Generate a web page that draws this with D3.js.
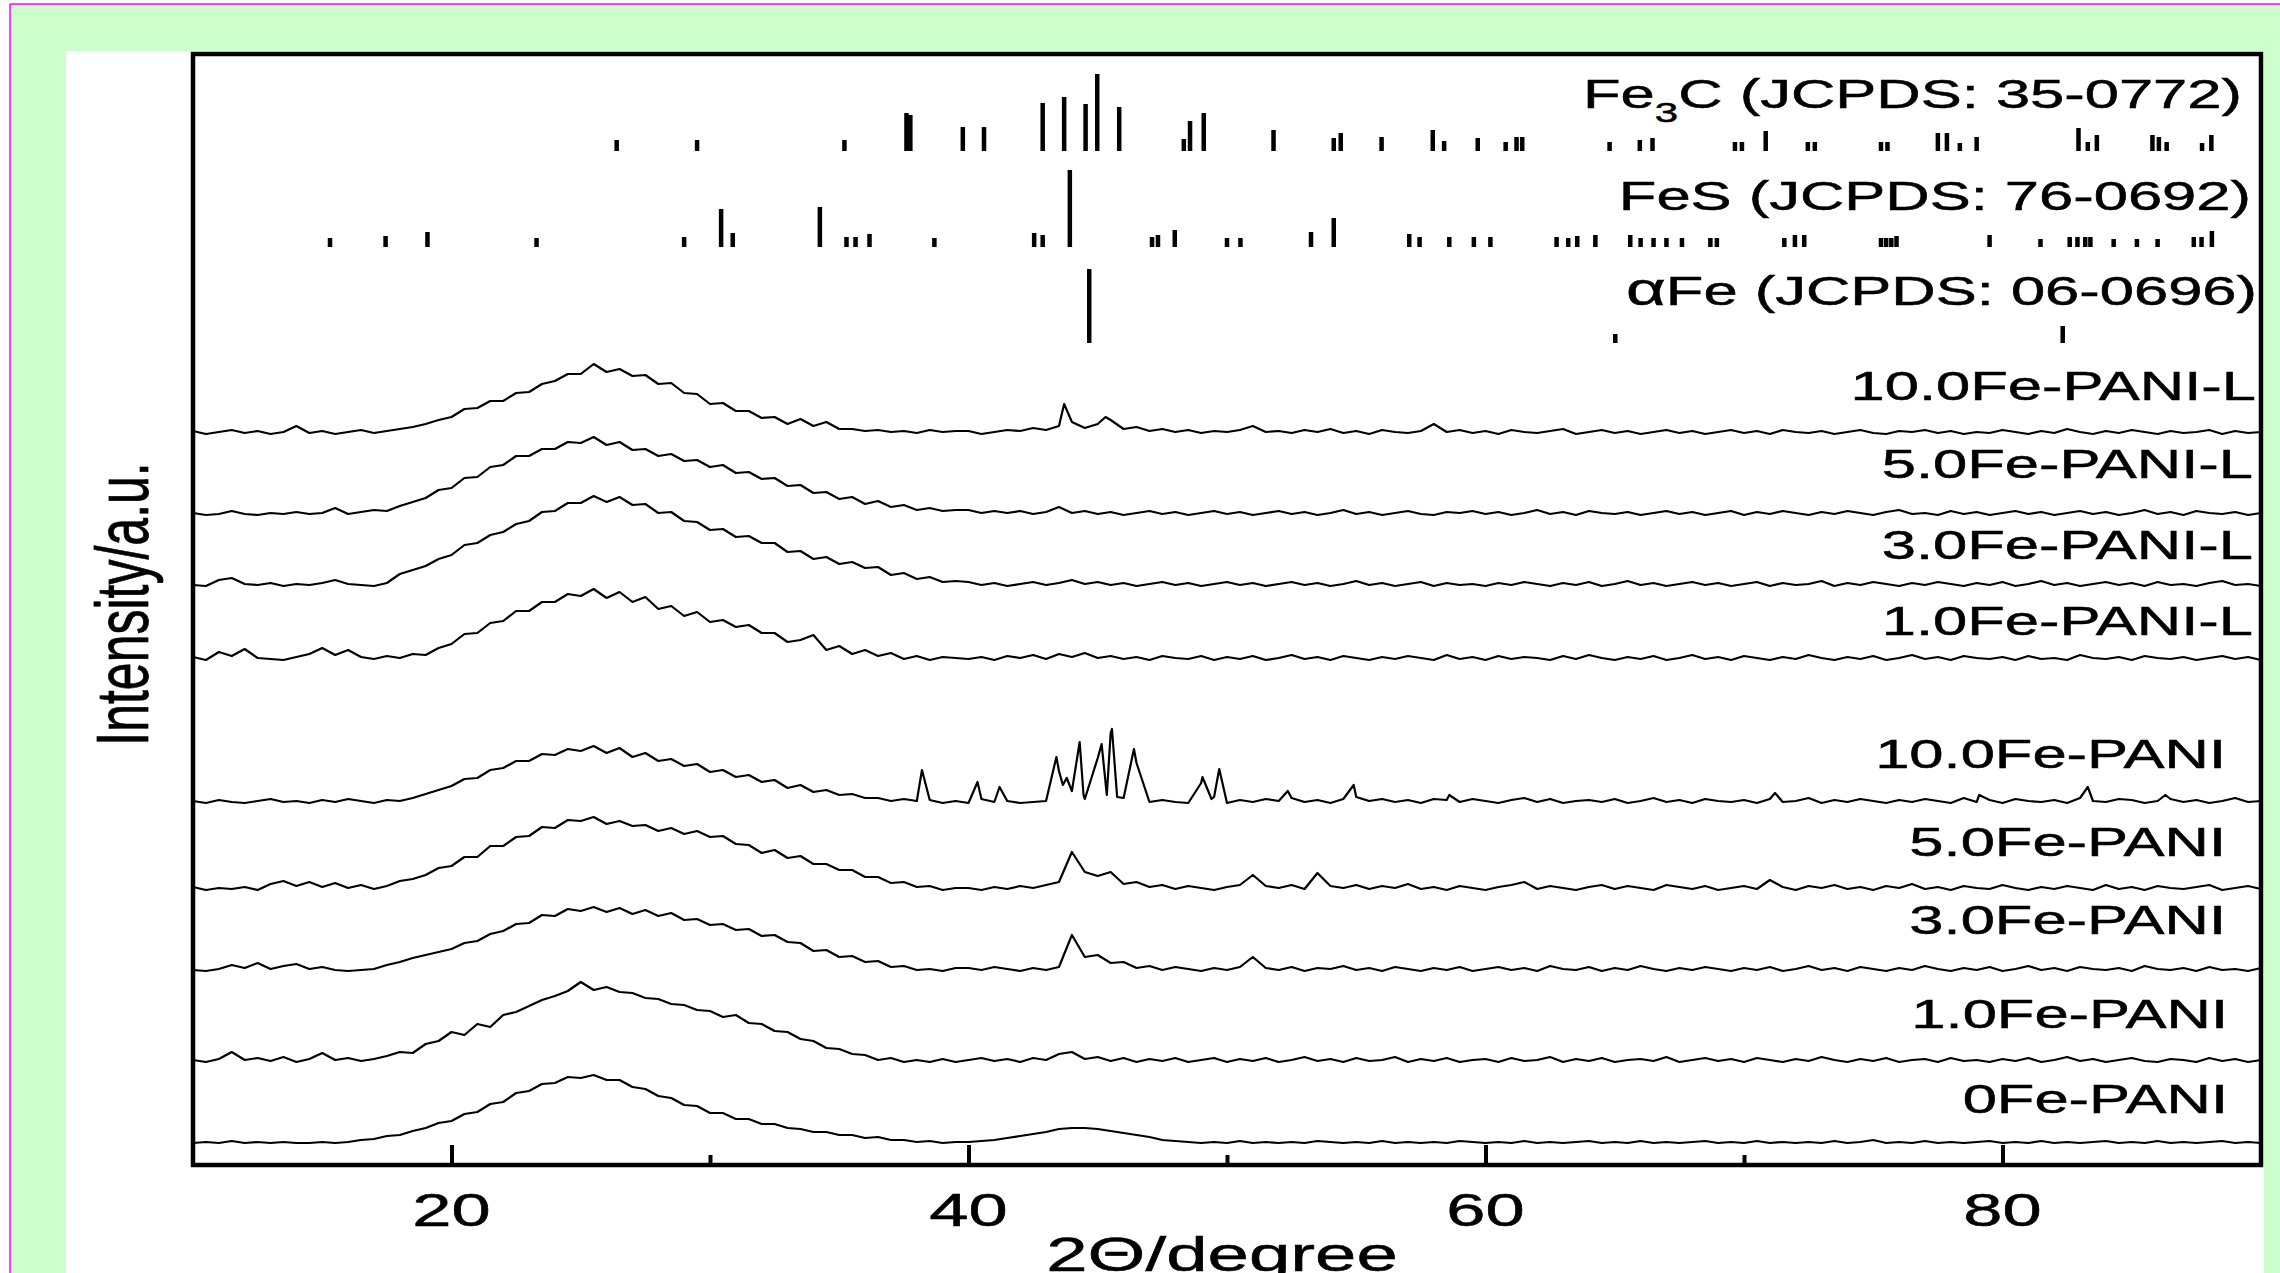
<!DOCTYPE html>
<html>
<head>
<meta charset="utf-8">
<script src="https://cdn.jsdelivr.net/npm/d3@7"></script>
<style>
  html, body { margin: 0; padding: 0; background: #fff; }
  svg { display: block; }
</style>
</head>
<body>
<div id="chart"></div>
<script>
// scans are sampled on a 2theta grid 10..90, step 0.5 (161 values each)
var thetaStart = 10, thetaStep = 0.5;

var scan0Fe = [
  0,1,0,2,0,1,0,1,0,0, 1,0,1,3,4,7,8,12,15,20,
  22,29,31,39,41,50,52,59,60,66, 65,68,63,63,56,54,47,45,38,37,
  30,30,24,24,19,19,15,14,11,11, 8,8,5,6,3,3,1,2,0,1,
  1,2,3,5,7,9,11,14,15,15, 14,12,10,8,6,3,2,1,0,1,
  0,2,0,1,0,1,0,2,1,0, 1,0,2,0,1,0,1,0,2,1,
  0,1,0,2,0,1,0,1,2,0, 1,0,2,0,1,0,1,2,0,1,
  0,2,0,1,0,1,0,2,0,1, 3,0,1,0,2,0,1,0,1,2,
  0,1,0,2,0,1,0,1,2,0, 1,0,2,0,1,0,1,2,0,1,
  0];
var scan1Fe = [
  2,0,3,10,2,4,1,5,0,3, 9,2,4,1,3,6,10,9,18,21,
  30,27,38,35,47,50,56,62,66,71, 80,72,75,70,69,64,63,58,57,52,
  51,45,47,39,38,31,30,23,21,14, 13,8,7,2,4,0,2,0,3,0,
  2,4,1,3,0,4,2,8,10,3, 5,1,4,0,3,1,4,0,2,4,
  0,3,1,4,0,2,5,1,3,0, 4,1,2,5,0,3,1,4,0,2,
  3,0,4,1,2,5,0,3,1,4, 0,2,3,1,5,0,2,4,1,3,
  0,4,2,0,3,1,5,2,0,3, 1,4,0,2,3,0,4,1,2,0,
  3,1,4,0,2,5,1,3,0,2, 4,1,0,3,2,0,4,1,3,0,
  2];
var scan3Fe = [
  1,0,2,6,3,8,2,5,7,2, 4,1,0,1,2,6,9,13,16,19,
  22,28,30,37,40,47,48,56,55,62, 60,64,59,63,57,61,55,58,51,52,
  46,47,41,42,35,36,29,28,20,21, 14,15,9,10,4,5,1,2,0,3,
  3,1,4,2,0,3,1,4,36,14, 16,8,9,3,5,1,4,2,0,3,
  1,4,14,3,1,4,0,3,2,5, 1,3,0,4,2,0,3,1,4,0,
  2,4,1,3,0,5,2,1,4,0, 3,1,5,2,0,3,1,4,2,0,
  3,1,4,0,2,5,1,3,0,4, 2,0,3,1,5,2,0,3,1,4,
  0,2,5,1,3,0,4,2,1,3, 0,5,2,1,3,0,4,1,2,0,
  3];
var scan5Fe = [
  3,0,2,1,3,0,6,9,4,8, 3,7,2,5,1,4,9,11,15,22,
  24,33,33,44,44,53,54,63,62,70, 69,73,66,69,64,65,59,62,56,59,
  53,54,46,45,37,40,32,34,26,26, 20,20,13,13,7,8,3,4,0,2,
  2,0,3,1,4,2,5,8,38,18, 14,18,6,8,3,5,1,4,2,0,
  3,5,15,4,2,5,1,17,4,2, 5,1,4,2,6,1,3,0,4,2,
  0,3,5,8,1,4,2,0,3,5, 1,4,2,0,5,3,1,4,0,2,
  4,1,10,3,0,4,2,5,1,3, 0,4,2,6,1,3,0,4,2,1,
  5,2,0,3,1,4,2,0,5,1, 3,0,4,2,1,3,5,0,2,4,
  1];
var scan10Fe = [
  2,0,3,1,0,2,4,1,2,0, 3,1,4,2,0,3,2,5,9,13,
  17,24,25,33,35,42,42,49,48,54, 52,57,50,55,46,50,42,44,37,39,
  31,33,26,28,21,23,15,18,11,13, 8,9,5,5,2,4,2,3,0,2,
  0,4,1,2,0,1,2,32,12,4, 45,70,5,40,1,3,1,0,20,6,
  0,3,1,4,2,5,1,3,0,4, 6,2,4,1,3,0,4,3,1,4,
  2,0,3,5,1,4,0,2,3,1, 4,0,2,5,1,3,0,4,2,1,
  3,0,4,1,2,5,0,3,1,4, 2,0,3,1,4,2,0,5,1,3,
  0,4,2,1,3,0,5,2,1,4, 3,0,2,4,1,3,0,2,5,1,
  2];
var scan1FeL = [
  3,0,8,4,11,2,1,0,3,6, 12,5,10,3,1,4,2,6,5,12,
  16,26,27,37,39,49,49,58,58,66, 64,71,62,68,58,63,51,54,44,48,
  38,40,33,35,27,27,18,20,25,10, 14,6,10,4,7,1,4,0,3,2,
  1,3,0,4,2,5,1,6,3,7, 2,4,1,3,0,4,2,1,4,0,
  3,1,4,0,2,5,1,3,0,4, 2,0,3,1,4,2,0,5,1,3,
  0,4,1,3,2,0,4,1,5,2, 0,3,1,4,0,2,5,1,3,0,
  4,2,0,3,1,5,2,0,3,1, 4,0,2,5,1,3,0,4,2,1,
  3,0,4,1,2,0,5,2,1,3, 0,4,2,1,3,0,2,4,1,3,
  0];
var scan3FeL = [
  1,0,6,8,2,1,3,0,2,1, 3,6,2,1,0,3,12,16,20,27,
  31,41,43,51,54,62,65,74,75,83, 83,90,84,89,81,82,73,74,65,64,
  56,57,49,50,43,43,34,35,27,29, 22,24,18,19,11,13,7,9,4,5,
  4,1,3,0,2,4,1,3,6,2, 4,1,3,0,2,4,1,3,0,2,
  4,1,3,0,2,4,1,3,0,2, 5,1,3,0,2,4,0,3,1,2,
  0,3,1,4,2,0,3,1,4,0, 2,5,1,3,0,2,4,1,3,0,
  2,4,0,3,1,2,5,0,3,1, 4,2,0,3,1,4,2,0,3,1,
  4,0,2,5,1,3,0,2,4,1, 3,0,4,1,2,0,3,5,1,2,
  0];
var scan5FeL = [
  2,0,1,4,1,0,2,1,3,1, 2,7,1,3,5,4,9,13,17,25,
  27,37,38,48,50,59,59,66,66,73, 72,78,70,73,65,66,59,61,54,55,
  48,50,42,43,36,37,29,30,22,23, 16,18,11,14,8,10,5,7,4,5,
  5,2,4,2,4,1,3,8,2,4, 1,3,0,2,4,1,3,0,2,4,
  1,3,0,2,4,1,3,0,2,5, 1,3,0,2,4,1,0,3,2,4,
  1,3,0,2,5,1,3,0,4,2, 1,3,0,2,4,1,3,0,2,4,
  0,3,1,4,2,0,3,1,4,2, 0,3,5,1,2,0,4,1,3,0,
  2,4,1,3,0,2,4,1,3,0, 2,5,1,3,0,4,2,1,3,0,
  2];
var scan10FeL = [
  3,0,2,4,1,3,0,2,8,1, 3,0,2,4,1,3,5,7,10,14,
  17,25,26,33,33,41,42,50,53,60, 60,70,62,65,58,59,50,51,41,40,
  30,31,23,23,16,17,10,15,8,12, 5,5,3,4,2,3,1,4,2,3,
  3,0,2,4,3,6,4,8,12,6, 10,14,5,7,3,5,2,4,1,3,
  2,4,8,2,3,1,4,2,5,1, 3,0,4,2,1,3,10,2,4,1,
  3,0,4,2,1,3,5,0,2,4, 1,3,0,2,4,1,3,0,2,4,
  1,3,0,4,2,1,3,0,2,4, 1,0,3,2,4,1,3,0,2,1,
  4,2,0,3,1,5,2,0,3,1, 4,2,0,3,1,2,4,0,3,1,
  2];

// sharp reflections read between grid points [2theta, intensity]
var peaks10Fe = [[38.2,33],[40.35,21],[41.2,16],[43.4,46],[43.65,18],[43.8,25],[44.3,61],[44.45,8],
  [45.15,59],[45.35,8],[45.55,74],[45.75,6],[46.4,54],[49.05,26],[49.4,4],[49.7,34],
  [52.35,12],[54.9,18],[58.6,8],[71.2,10],[79.1,8],[83.3,16],[86.3,8]];
var peaks10FeL = [[43.7,30],[45.3,17]];

var sampleNames = ["0Fe-PANI","1.0Fe-PANI","3.0Fe-PANI","5.0Fe-PANI","10.0Fe-PANI",
  "1.0Fe-PANI-L","3.0Fe-PANI-L","5.0Fe-PANI-L","10.0Fe-PANI-L"];
var sampleScans = [scan0Fe, scan1Fe, scan3Fe, scan5Fe, scan10Fe, scan1FeL, scan3FeL, scan5FeL, scan10FeL];
var samplePeaks = [[],[],[],[],peaks10Fe,[],[],[],peaks10FeL];
var sampleOffsets = [22, 103, 194, 275, 362, 505, 579, 650, 731];

// reference cards: line positions (2theta) and heights
var fe3cPos = [26.39,29.5,35.2,37.6,37.75,39.78,40.6,42.87,43.7,44.53,44.98,45.83,48.33,48.57,49.1,51.8,
  54.13,54.4,55.98,57.96,58.4,59.7,60.78,61.2,61.42,64.8,65.97,66.46,69.65,69.92,70.84,72.47,72.74,
  75.3,75.55,77.5,77.85,78.35,79.0,82.94,83.3,83.65,85.8,86.05,86.35,87.72,88.08];
var fe3cInt = [11,11,11,38,36,24,24,48,54,47,77,44,12,30,38,21,
  13,18,14,21,10,13,9,14,14,9,11,13,9,9,20,9,9,
  9,9,18,18,8,14,23,9,16,16,14,9,8,16];
var fesPos = [15.3,17.45,19.07,23.29,29.0,30.43,30.88,34.25,35.28,35.63,36.17,38.68,42.54,42.87,43.92,
  47.1,47.33,47.98,50.0,50.52,53.25,54.13,57.05,57.45,58.6,59.55,60.19,62.75,63.2,63.55,64.25,
  65.6,66.0,66.5,67.0,67.6,68.7,68.95,71.56,71.97,72.33,75.3,75.5,75.7,75.9,79.5,81.47,
  82.6,82.9,83.2,83.4,84.3,85.2,86.0,87.4,87.7,88.1];
var fesInt = [9,11,15,9,10,38,14,40,10,10,13,9,14,12,77,
  10,12,17,9,9,15,29,13,10,10,10,10,10,9,11,12,
  12,9,9,9,9,9,9,9,12,12,9,9,9,11,12,8,
  10,10,10,10,8,8,8,10,10,16];
var afePos = [44.67, 65.02, 82.33];
var afeInt = [74, 9, 17];
var cardBases = [1014, 918, 822];

var xMajor = [20, 40, 60, 80];
var xMinor = [30, 50, 70];

// ---- layout ----
var W = 2280, H = 1273;
var plot = {left: 193, right: 2261, top: 54, bottom: 1165};
var font = "'Liberation Sans', Arial, Helvetica, sans-serif";
var stretch = 1.5; // the original figure is widened horizontally

var x = d3.scaleLinear().domain([10, 90]).range([plot.left, plot.right]);
var y = d3.scaleLinear().domain([0, plot.bottom - plot.top]).range([plot.bottom, plot.top]);

var svg = d3.select("#chart").append("svg")
    .attr("width", W).attr("height", H)
    .style("font-family", font);

svg.append("rect").attr("x", 10).attr("y", 4).attr("width", W - 10).attr("height", H - 4).attr("fill", "#ccffcc");
svg.append("line").attr("x1", 10).attr("x2", W).attr("y1", 4).attr("y2", 4).attr("stroke", "#ff00ff").attr("stroke-width", 1.5);
svg.append("line").attr("x1", 10).attr("x2", 10).attr("y1", 4).attr("y2", H).attr("stroke", "#ff00ff").attr("stroke-width", 1.5);
svg.append("rect").attr("x", 66).attr("y", 51).attr("width", 2264 - 66).attr("height", H - 51).attr("fill", "#fff");

// scans
var line = d3.line()
    .x(function(d) { return x(d[0]); })
    .y(function(d) { return y(d[1]); });

sampleScans.forEach(function(vals, i) {
  var pts = vals.map(function(v, k) { return [thetaStart + k * thetaStep, v]; })
    .concat(samplePeaks[i])
    .sort(function(a, b) { return a[0] - b[0]; })
    .map(function(d) { return [d[0], d[1] + sampleOffsets[i]]; });
  svg.append("path")
    .datum(pts)
    .attr("d", line)
    .attr("fill", "none")
    .attr("stroke", "#000")
    .attr("stroke-width", 2.2)
    .attr("stroke-linejoin", "round");
});

// stick patterns
[[fe3cPos, fe3cInt], [fesPos, fesInt], [afePos, afeInt]].forEach(function(card, i) {
  var base = cardBases[i];
  svg.append("g").selectAll("line")
    .data(card[0].map(function(p, k) { return {pos: p, h: card[1][k]}; }))
    .enter().append("line")
    .attr("x1", function(d) { return x(d.pos); })
    .attr("x2", function(d) { return x(d.pos); })
    .attr("y1", y(base))
    .attr("y2", function(d) { return y(base + d.h); })
    .attr("stroke", "#000")
    .attr("stroke-width", 4.5);
});

// frame and ticks
svg.append("rect")
    .attr("x", plot.left).attr("y", plot.top)
    .attr("width", plot.right - plot.left).attr("height", plot.bottom - plot.top)
    .attr("fill", "none").attr("stroke", "#000").attr("stroke-width", 4.5);

var gMajor = svg.append("g").attr("transform", "translate(0," + plot.bottom + ")")
    .call(d3.axisBottom(x).tickValues(xMajor).tickSize(-20).tickFormat(""));
var gMinor = svg.append("g").attr("transform", "translate(0," + plot.bottom + ")")
    .call(d3.axisBottom(x).tickValues(xMinor).tickSize(-10).tickFormat(""));
[gMajor, gMinor].forEach(function(g) {
  g.select(".domain").remove();
  g.selectAll(".tick line").attr("stroke", "#000").attr("stroke-width", 4);
});

function wideText(px, py, anchor, size, sx) {
  return svg.append("text")
    .attr("transform", "translate(" + px + "," + py + ") scale(" + (sx || stretch) + ",1)")
    .attr("text-anchor", anchor)
    .attr("font-size", size)
    .attr("fill", "#000")
    .attr("stroke", "#000")
    .attr("stroke-width", 0.5);
}

xMajor.forEach(function(v) {
  wideText(x(v), 1226, "middle", 47).text(v);
});

wideText(1222, 1271, "middle", 48, 1.55).text("2\u0398/degree");

svg.append("text")
    .attr("transform", "translate(148,604) scale(" + stretch + ",1) rotate(-90)")
    .attr("text-anchor", "middle")
    .attr("font-size", 50)
    .attr("stroke", "#000")
    .attr("stroke-width", 0.5)
    .text("Intensity/a.u.");

// labels (right edge, baseline)
var fe3c = wideText(2242, 108, "end", 41);
fe3c.append("tspan").text("Fe");
fe3c.append("tspan").attr("font-size", 28).attr("dy", 14).text("3");
fe3c.append("tspan").attr("dy", -14).text("C (JCPDS: 35-0772)");
wideText(2251, 210, "end", 41).text("FeS (JCPDS: 76-0692)");
var afe = wideText(2257, 305, "end", 41);
afe.append("tspan").attr("font-size", 46).text("\u03b1");
afe.append("tspan").text("Fe (JCPDS: 06-0696)");

var labelRight = [2228, 2228, 2226, 2226, 2226, 2253, 2253, 2253, 2256];
var labelBase = [1113, 1028, 934, 856, 768, 635, 559, 478, 400];
sampleNames.forEach(function(n, i) {
  wideText(labelRight[i], labelBase[i], "end", 41).text(n);
});
</script>
</body>
</html>
